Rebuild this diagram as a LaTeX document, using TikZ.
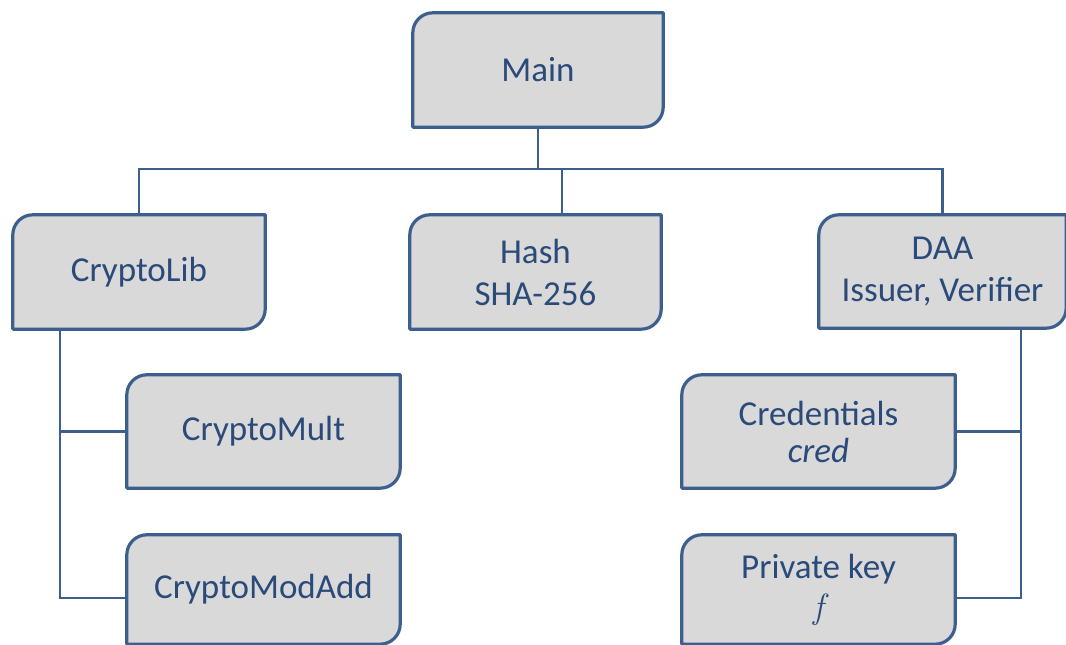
\documentclass[tikz,border=0pt]{standalone}
\usepackage{fontspec}
\setmainfont{Carlito}
\newfontfamily\lmserif{Latin Modern Roman}
\usetikzlibrary{backgrounds}
\definecolor{boxfill}{HTML}{D9D9D9}
\definecolor{boxedge}{HTML}{3C5F8E}
\definecolor{txt}{HTML}{2A4A7A}
\begin{document}
\begin{tikzpicture}[x=1pt,y=1pt,
  lbl/.style={inner sep=0pt, align=center, text=txt,
    font=\fontsize{35}{42}\selectfont},
  boxline/.style={draw=boxedge, fill=boxfill, line width=3.2pt, line join=round},
  conn/.style={draw=boxedge, line width=2.5pt}]
\useasboundingbox (0,0) rectangle (1066,645);
% nodes (centre = box centre; y up = 645 - pixel y)
\node[lbl, minimum width=250, minimum height=114] (main) at (538,575) {Main};
\node[lbl, minimum width=252, minimum height=114] (cryptolib) at (139,373) {CryptoLib};
\node[lbl, minimum width=251, minimum height=114] (hash) at (535.5,373) {Hash\\SHA-256};
\node[lbl, minimum width=247, minimum height=113] (daa) at (942.5,373.5) {DAA\\Issuer, Verifier};
\node[lbl, minimum width=273, minimum height=113] (cryptomult) at (263.5,213.5) {CryptoMult};
\node[lbl, minimum width=273, minimum height=113] (credentials) at (818.5,213.5) {Credentials\\[-5pt]\textit{cred}};
\node[lbl, minimum width=273, minimum height=109] (cryptomodadd) at (263.5,55.5) {CryptoModAdd};
\node[lbl, minimum width=273, minimum height=109] (privatekey) at (818.5,55.5) {Private key\\[-2pt]{\lmserif\itshape f}};
% box shapes behind the text
\begin{scope}[on background layer]
\foreach \n in {main,cryptolib,hash,daa,cryptomult,cryptomodadd,credentials,privatekey}{
  \draw[boxline] (\n.south west) -- ([yshift=-20pt]\n.north west)
    arc[start angle=180,end angle=90,radius=20pt] -- (\n.north east)
    -- ([yshift=20pt]\n.south east)
    arc[start angle=0,end angle=-90,radius=20pt] -- cycle;
}
\end{scope}
% bus coordinates
\coordinate (bus) at (538,476);
\coordinate (lefttrunk) at (60,0);
\coordinate (righttrunk) at (1021,0);
% connectors
\draw[conn] (main.south) -- (bus);
\draw[conn] (cryptolib.north) |- (bus) -| (daa.north);
\draw[conn] ([xshift=26.5pt]hash.north) -- ([xshift=26.5pt]hash.north |- bus);
\draw[conn] (lefttrunk |- cryptolib.south) -- (lefttrunk |- 0,47) -- ([yshift=-8.5pt]cryptomodadd.west);
\draw[conn] (lefttrunk |- cryptomult.west) -- (cryptomult.west);
\draw[conn] (righttrunk |- daa.south) -- (righttrunk |- 0,47) -- ([yshift=-8.5pt]privatekey.east);
\draw[conn] (righttrunk |- credentials.east) -- (credentials.east);
\end{tikzpicture}
\end{document}
